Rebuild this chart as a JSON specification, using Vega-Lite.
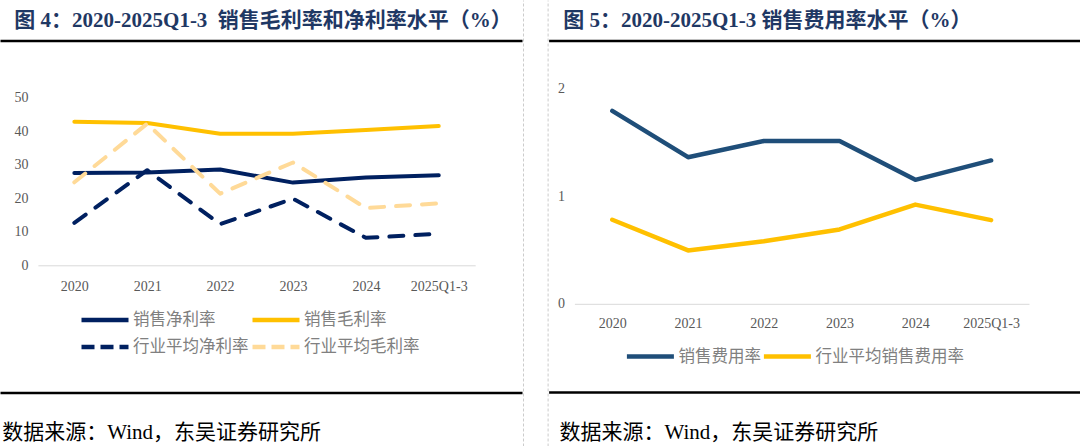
{
  "$schema": "https://vega.github.io/schema/vega-lite/v6.json",
  "width": 1080,
  "height": 446,
  "padding": 0,
  "autosize": {"type": "none"},
  "background": "white",
  "config": {
    "view": {"stroke": null},
    "axis": {"grid": false, "ticks": false, "tickSize": 0, "labelOverlap": false, "labelFont": "Liberation Serif", "labelFontSize": 14, "labelColor": "#595959"},
    "legend": {"orient": "none", "title": null, "direction": "horizontal", "symbolType": "stroke", "symbolSize": 2209, "symbolStrokeWidth": 4.5, "labelFont": "Noto Sans CJK SC", "labelFontSize": 16.5, "labelColor": "#808080", "labelOffset": 2, "padding": 0, "labelLimit": 300}
  },
  "datasets": {
    "margin": [
      {"期间": "2020", "系列": "销售净利率", "值": 27.6},
      {"期间": "2021", "系列": "销售净利率", "值": 27.7},
      {"期间": "2022", "系列": "销售净利率", "值": 28.6},
      {"期间": "2023", "系列": "销售净利率", "值": 24.7},
      {"期间": "2024", "系列": "销售净利率", "值": 26.2},
      {"期间": "2025Q1-3", "系列": "销售净利率", "值": 26.9},
      {"期间": "2020", "系列": "销售毛利率", "值": 42.9},
      {"期间": "2021", "系列": "销售毛利率", "值": 42.5},
      {"期间": "2022", "系列": "销售毛利率", "值": 39.3},
      {"期间": "2023", "系列": "销售毛利率", "值": 39.3},
      {"期间": "2024", "系列": "销售毛利率", "值": 40.4},
      {"期间": "2025Q1-3", "系列": "销售毛利率", "值": 41.6},
      {"期间": "2020", "系列": "行业平均净利率", "值": 12.7},
      {"期间": "2021", "系列": "行业平均净利率", "值": 28.4},
      {"期间": "2022", "系列": "行业平均净利率", "值": 12.3},
      {"期间": "2023", "系列": "行业平均净利率", "值": 19.9},
      {"期间": "2024", "系列": "行业平均净利率", "值": 8.2},
      {"期间": "2025Q1-3", "系列": "行业平均净利率", "值": 9.4},
      {"期间": "2020", "系列": "行业平均毛利率", "值": 24.8},
      {"期间": "2021", "系列": "行业平均毛利率", "值": 42.3},
      {"期间": "2022", "系列": "行业平均毛利率", "值": 21.4},
      {"期间": "2023", "系列": "行业平均毛利率", "值": 30.7},
      {"期间": "2024", "系列": "行业平均毛利率", "值": 17.1},
      {"期间": "2025Q1-3", "系列": "行业平均毛利率", "值": 18.5}
    ],
    "sales": [
      {"期间": "2020", "系列": "销售费用率", "值": 1.79},
      {"期间": "2021", "系列": "销售费用率", "值": 1.36},
      {"期间": "2022", "系列": "销售费用率", "值": 1.51},
      {"期间": "2023", "系列": "销售费用率", "值": 1.51},
      {"期间": "2024", "系列": "销售费用率", "值": 1.15},
      {"期间": "2025Q1-3", "系列": "销售费用率", "值": 1.33},
      {"期间": "2020", "系列": "行业平均销售费用率", "值": 0.78},
      {"期间": "2021", "系列": "行业平均销售费用率", "值": 0.495},
      {"期间": "2022", "系列": "行业平均销售费用率", "值": 0.58},
      {"期间": "2023", "系列": "行业平均销售费用率", "值": 0.69},
      {"期间": "2024", "系列": "行业平均销售费用率", "值": 0.92},
      {"期间": "2025Q1-3", "系列": "行业平均销售费用率", "值": 0.776}
    ]
  },
  "layer": [
    {
      "data": {"name": "margin"},
      "transform": [{"filter": {"field": "系列", "oneOf": ["销售净利率", "销售毛利率"]}}],
      "mark": {"type": "line", "strokeWidth": 4, "strokeCap": "round", "strokeJoin": "round"},
      "encoding": {
        "x": {"field": "期间", "type": "ordinal", "sort": null,
          "scale": {"type": "point", "domain": ["2020", "2021", "2022", "2023", "2024", "2025Q1-3"], "range": [37.9, 475.2], "padding": 0.5},
          "axis": {"orient": "bottom", "offset": -180.7, "title": null, "domainColor": "#d9d9d9", "domainWidth": 1, "labelPadding": 14, "labelAngle": 0}},
        "y": {"field": "值", "type": "quantitative",
          "scale": {"domain": [0, 50], "range": [265.3, 97.9], "nice": false},
          "axis": {"orient": "left", "offset": -37.9, "title": null, "domain": false, "values": [0, 10, 20, 30, 40, 50], "format": "d", "labelPadding": 10}},
        "color": {"field": "系列", "type": "nominal",
          "scale": {"domain": ["销售净利率", "销售毛利率"], "range": ["#002060", "#FFC000"]},
          "legend": {"legendX": 79, "legendY": 294, "columnPadding": 27}}
      }
    },
    {
      "data": {"name": "margin"},
      "transform": [{"filter": {"field": "系列", "oneOf": ["行业平均净利率", "行业平均毛利率"]}}],
      "mark": {"type": "line", "strokeWidth": 4, "strokeCap": "round", "strokeJoin": "round", "strokeDash": [14, 12]},
      "encoding": {
        "x": {"field": "期间", "type": "ordinal", "sort": null,
          "scale": {"type": "point", "domain": ["2020", "2021", "2022", "2023", "2024", "2025Q1-3"], "range": [37.9, 475.2], "padding": 0.5},
          "axis": null},
        "y": {"field": "值", "type": "quantitative",
          "scale": {"domain": [0, 50], "range": [265.3, 97.9], "nice": false},
          "axis": null},
        "color": {"field": "系列", "type": "nominal",
          "scale": {"domain": ["行业平均净利率", "行业平均毛利率"], "range": ["#002060", "#FFDA98"]},
          "legend": {"legendX": 79, "legendY": 321, "columnPadding": -6, "symbolDash": [13, 6]}}
      }
    },
    {
      "data": {"name": "sales"},
      "mark": {"type": "line", "strokeWidth": 4.5, "strokeCap": "round", "strokeJoin": "round"},
      "encoding": {
        "x": {"field": "期间", "type": "ordinal", "sort": null,
          "scale": {"type": "point", "range": [574.4, 1029], "padding": 0.5},
          "axis": {"orient": "bottom", "offset": -142.2, "title": null, "domainColor": "#d9d9d9", "domainWidth": 1, "labelPadding": 12.5, "labelAngle": 0}},
        "y": {"field": "值", "type": "quantitative",
          "scale": {"domain": [0, 2], "range": [303.8, 88.2], "nice": false},
          "axis": {"orient": "left", "offset": -574.4, "title": null, "domain": false, "values": [0, 1, 2], "format": ".0f", "labelOverlap": false, "labelPadding": 10}},
        "color": {"field": "系列", "type": "nominal",
          "scale": {"domain": ["销售费用率", "行业平均销售费用率"], "range": ["#1F4E79", "#FFC000"]},
          "legend": {"legendX": 624.4, "legendY": 330.5, "columnPadding": -10}}
      }
    },
    {
      "data": {"values": []},
      "mark": {"type": "point", "opacity": 0},
      "encoding": {
        "x": {"field": "u", "type": "quantitative", "scale": {"domain": [0, 1], "range": [0, 522]},
          "axis": {"orient": "top", "offset": -40.6, "domainColor": "#000000", "domainWidth": 2.5, "labels": false, "ticks": false, "grid": false,
            "title": "图 4：2020-2025Q1-3\u00a0\u00a0销售毛利率和净利率水平（%）", "titleX": 13.8, "titleY": -13.6, "titleAlign": "left", "titleBaseline": "alphabetic", "titleAngle": 0,
            "titleFont": "'Liberation Serif', 'Noto Sans CJK SC', serif", "titleFontSize": 21, "titleFontWeight": "bold", "titleColor": "#1F3864"}},
        "y": {"field": "v", "type": "quantitative", "scale": {"domain": [0, 1]},
          "axis": {"orient": "left", "offset": -523, "domainColor": "#cccccc", "domainDash": [3, 2], "domainWidth": 1, "labels": false, "ticks": false, "grid": false, "title": null}}
      }
    },
    {
      "data": {"values": []},
      "mark": {"type": "point", "opacity": 0},
      "encoding": {
        "x": {"field": "u", "type": "quantitative", "scale": {"domain": [0, 1], "range": [0, 522]},
          "axis": {"orient": "bottom", "offset": -53.4, "domainColor": "#000000", "domainWidth": 2.5, "labels": false, "ticks": false, "grid": false,
            "title": "数据来源：Wind，东吴证券研究所", "titleX": 1.7, "titleY": 45.5, "titleAlign": "left", "titleBaseline": "alphabetic", "titleAngle": 0,
            "titleFont": "'Liberation Serif', 'Noto Sans CJK SC', serif", "titleFontSize": 21, "titleFontWeight": "normal", "titleColor": "#000000"}},
        "y": {"field": "v", "type": "quantitative", "scale": {"domain": [0, 1]},
          "axis": {"orient": "left", "offset": -547.6, "domainColor": "#cccccc", "domainDash": [3, 2], "domainWidth": 1, "labels": false, "ticks": false, "grid": false, "title": null}}
      }
    },
    {
      "data": {"values": []},
      "mark": {"type": "point", "opacity": 0},
      "encoding": {
        "x": {"field": "u", "type": "quantitative", "scale": {"domain": [0, 1], "range": [548.6, 1080]},
          "axis": {"orient": "top", "offset": -40.6, "domainColor": "#000000", "domainWidth": 2.5, "labels": false, "ticks": false, "grid": false,
            "title": "图 5：2020-2025Q1-3 销售费用率水平（%）", "titleX": 562.7, "titleY": -13.6, "titleAlign": "left", "titleBaseline": "alphabetic", "titleAngle": 0,
            "titleFont": "'Liberation Serif', 'Noto Sans CJK SC', serif", "titleFontSize": 21, "titleFontWeight": "bold", "titleColor": "#1F3864"}},
        "y": {"field": "v", "type": "quantitative", "scale": {"domain": [0, 1]}, "axis": null}
      }
    },
    {
      "data": {"values": []},
      "mark": {"type": "point", "opacity": 0},
      "encoding": {
        "x": {"field": "u", "type": "quantitative", "scale": {"domain": [0, 1], "range": [548.6, 1080]},
          "axis": {"orient": "bottom", "offset": -54, "domainColor": "#000000", "domainWidth": 2.5, "labels": false, "ticks": false, "grid": false,
            "title": "数据来源：Wind，东吴证券研究所", "titleX": 559, "titleY": 46, "titleAlign": "left", "titleBaseline": "alphabetic", "titleAngle": 0,
            "titleFont": "'Liberation Serif', 'Noto Sans CJK SC', serif", "titleFontSize": 21, "titleFontWeight": "normal", "titleColor": "#000000"}},
        "y": {"field": "v", "type": "quantitative", "scale": {"domain": [0, 1]}, "axis": null}
      }
    }
  ],
  "resolve": {
    "scale": {"x": "independent", "y": "independent", "color": "independent"},
    "axis": {"x": "independent", "y": "independent"},
    "legend": {"color": "independent"}
  }
}
